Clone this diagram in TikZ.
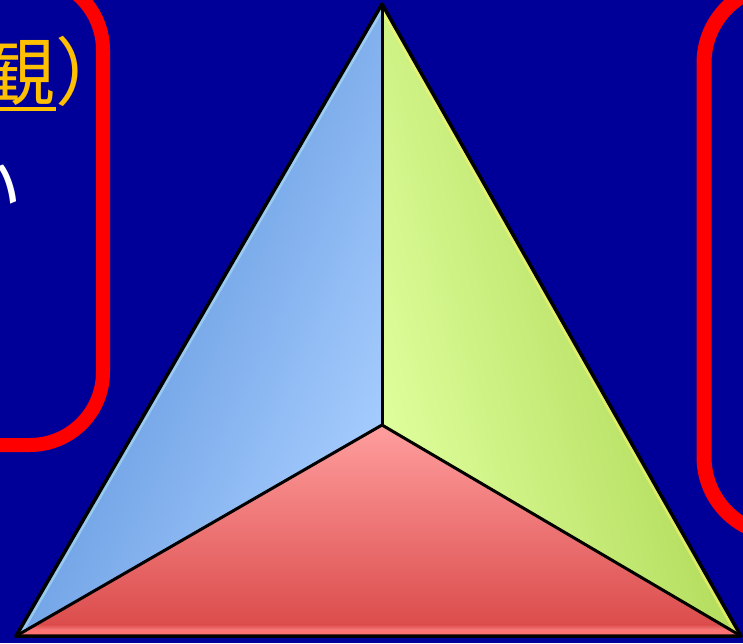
\documentclass[tikz,border=0pt]{standalone}
\usepackage{fontspec}
\newfontfamily\jp{Noto Sans CJK JP}
\definecolor{bgblue}{HTML}{000099}
\definecolor{boxred}{HTML}{FF0000}
\definecolor{txtorange}{HTML}{FFC000}
\definecolor{bluedark}{HTML}{4C86D4}
\definecolor{bluelight}{HTML}{A8CEFF}
\definecolor{greendark}{HTML}{A2D044}
\definecolor{greenlight}{HTML}{E0FF9E}
\definecolor{redtop}{HTML}{FF9E9E}
\definecolor{redbot}{HTML}{DA4848}
\tikzset{
  framebox/.style={draw=boxred, rounded corners=#1},
  faceedge/.style={draw=black, line width=3, line join=round},
  glowline/.style={line width=9, opacity=0.55},
  jptext/.style={inner sep=0pt, font=\jp\fontsize{74}{80}\selectfont}
}
\begin{document}
\begin{tikzpicture}[x=1pt,y=-1pt]
\useasboundingbox (0,0) rectangle (743,643);
\clip (0,0) rectangle (743,643);
\fill[bgblue] (0,0) rectangle (743,643);

% frames
\draw[framebox=73, line width=14] (-200,-23) rectangle (103,445);
\draw[framebox=78, line width=15] (704,-15) rectangle (950,535);

% texts
\node[jptext, text=txtorange, anchor=base west] (t1) at (-19,99) {観）};
\draw[txtorange, line width=4] (0,109) -- (56,109);
\node[jptext, text=white, anchor=base west] (t2) at (-52,214) {い};

% triangle vertices
\coordinate (A) at (382,4);
\coordinate (O) at (382,425);
\coordinate (L) at (16,636);
\coordinate (R) at (741,636);

% faces
\shade[left color=bluedark, right color=bluelight, shading angle=65] (A) -- (O) -- (L) -- cycle;
\shade[left color=greenlight, right color=greendark, shading angle=105] (A) -- (R) -- (O) -- cycle;
\shade[top color=redtop, bottom color=redbot] (O) -- (R) -- (L) -- cycle;

% bevel glows
\begin{scope}
  \clip (A) -- (O) -- (L) -- cycle;
  \draw[glowline, color=cyan!30!white] (A) -- (L);
\end{scope}
\begin{scope}
  \clip (A) -- (R) -- (O) -- cycle;
  \draw[glowline, color=yellow!60!white] (A) -- (R);
\end{scope}
\begin{scope}
  \clip (O) -- (R) -- (L) -- cycle;
  \shade[top color=redbot, bottom color=red!45!white] (0,624) rectangle (743,632);
  \fill[red!55!white] (0,630) rectangle (743,636);
\end{scope}

% edges
\draw[faceedge, line width=3.5] (A) -- (L) -- (R) -- cycle;
\draw[faceedge] (A) -- (O);
\draw[faceedge] (O) -- (L);
\draw[faceedge] (O) -- (R);
\end{tikzpicture}
\end{document}
